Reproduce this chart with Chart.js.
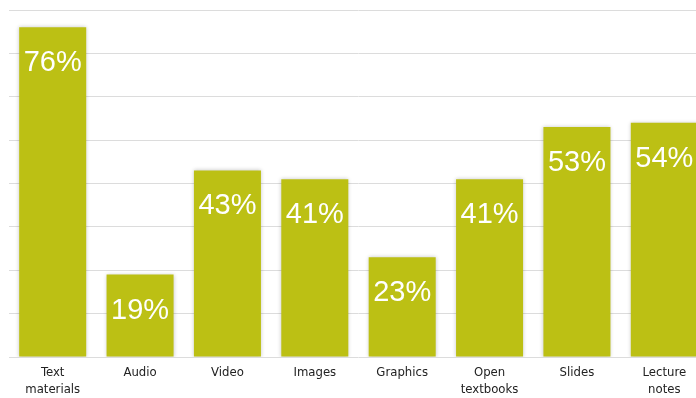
<!DOCTYPE html>
<html>
<head>
<meta charset="utf-8">
<script src="https://cdn.jsdelivr.net/npm/chart.js@4/dist/chart.umd.min.js"></script>
<style>
  html, body { margin: 0; padding: 0; background: #fff; overflow: hidden; }
  #wrap { width: 696px; height: 398px; overflow: hidden; }
  #box { width: 712px; height: 398px; }
</style>
</head>
<body>
<div id="wrap"><div id="box"><canvas id="useChart"></canvas></div></div>
<script>
var categories = [['Text', 'materials'], 'Audio', 'Video', 'Images', 'Graphics', ['Open', 'textbooks'], 'Slides', ['Lecture', 'notes']];
var shares = [76, 19, 43, 41, 23, 41, 53, 54];
var yTicks = [0, 10, 20, 30, 40, 50, 60, 70, 80];

var barColor = 'rgb(188, 192, 20)';

// soft shadow behind the bars, then white percent labels inside them
var barExtras = {
    id: 'barExtras',
    beforeDatasetsDraw: function(chart) {
        var ctx = chart.ctx;
        ctx.save();
        ctx.shadowColor = 'rgba(0, 0, 0, 0.22)';
        ctx.shadowBlur = 4;
        ctx.shadowOffsetX = 0;
        ctx.shadowOffsetY = 0;
    },
    afterDatasetsDraw: function(chart) {
        var ctx = chart.ctx;
        ctx.restore();
        ctx.save();
        ctx.fillStyle = '#ffffff';
        ctx.font = '29px "Liberation Sans", Arial, sans-serif';
        ctx.textAlign = 'center';
        ctx.textBaseline = 'middle';
        chart.getDatasetMeta(0).data.forEach(function(bar, i) {
            ctx.fillText(shares[i] + '%', bar.x, bar.y + 36);
        });
        ctx.restore();
    }
};

var useChart = document.getElementById('useChart').getContext('2d');
var chart = new Chart(useChart, {
    type: 'bar',
    data: {
        labels: categories,
        datasets: [{
            label: 'Share',
            backgroundColor: barColor,
            borderWidth: 0,
            data: shares,
            categoryPercentage: 1,
            barPercentage: 0.767
        }]
    },
    options: {
        responsive: true,
        maintainAspectRatio: false,
        animation: false,
        layout: { padding: { left: 9, right: 4, top: 10, bottom: 0 } },
        plugins: {
            legend: { display: false },
            tooltip: { enabled: false }
        },
        scales: {
            x: {
                grid: { display: false, drawTicks: false },
                border: { display: false },
                afterFit: function(axis) { axis.height = 41; },
                ticks: {
                    color: '#222',
                    padding: 7,
                    maxRotation: 0,
                    autoSkip: false,
                    font: { family: '"DejaVu Sans Condensed", "Liberation Sans Narrow", Roboto, sans-serif', size: 13, lineHeight: 1.3 }
                }
            },
            y: {
                min: yTicks[0],
                max: yTicks[yTicks.length - 1],
                afterBuildTicks: function(axis) {
                    axis.ticks = yTicks.map(function(v) { return { value: v }; });
                },
                ticks: { display: false },
                border: { display: false },
                grid: { color: '#dcdcdc', lineWidth: 1, drawTicks: false }
            }
        }
    },
    plugins: [barExtras]
});
</script>
</body>
</html>
